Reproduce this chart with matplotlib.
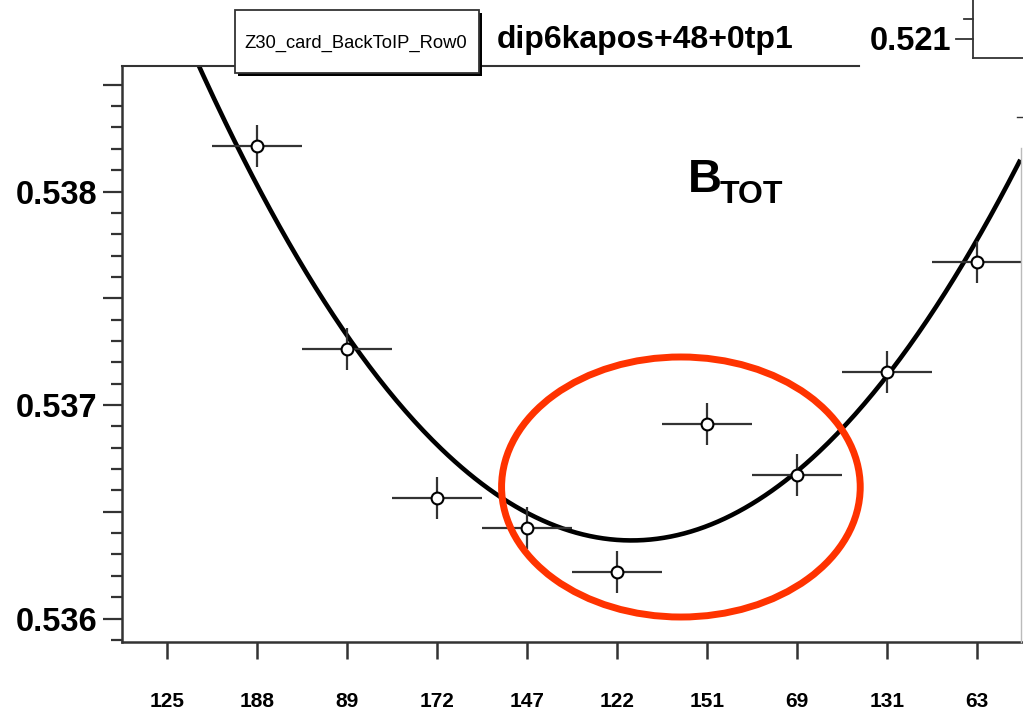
# -*- coding: utf-8 -*-
"""Odtworzenie wykresu B_TOT (styl ROOT) w matplotlib."""
import numpy as np
import matplotlib
matplotlib.use("Agg")
import matplotlib.pyplot as plt
from matplotlib.ticker import MultipleLocator, FuncFormatter
from matplotlib.patches import Ellipse, Rectangle
from matplotlib.lines import Line2D

# --- DANE ---
bin_labels = ["125", "188", "89", "172", "147", "122", "151", "69", "131", "63"]
# punkty pomiarowe (bin 125 poza zakresem osi - brak punktu)
point_labels = ["188", "89", "172", "147", "122", "151", "69", "131", "63"]
point_values = [0.538213, 0.537262, 0.536564, 0.536424, 0.536218,
                0.536911, 0.536672, 0.537155, 0.537670]
point_err = [0.0001, 0.0001, 0.0001, 0.0001, 0.0001,
             0.0001, 0.0001, 0.0001, 0.0001]
# krzywa dopasowania (x w jednostkach binow)
curve_x = [0.855, 1.765, 2.597, 3.407, 4.240, 5.072, 5.705,
           6.182, 7.503, 7.958, 8.502, 9.401, 9.945]
curve_y = [0.538588, 0.537834, 0.537262, 0.536836, 0.536555, 0.536424, 0.536372,
           0.536391, 0.536672, 0.536869, 0.537155, 0.537679, 0.538133]

title_box = "Z30_card_BackToIP_Row0"
title_text = "dip6kapos+48+0tp1"
other_label = "0.521"

DARK = "#333333"
RED = "#ff3300"
plt.rcParams['font.family'] = ['Liberation Sans', 'DejaVu Sans']

fig = plt.figure(figsize=(10.23, 7.13), dpi=100)
W, H = 1023, 713
ax = fig.add_axes([122 / W, 1 - 642 / H, 900 / W, 576 / H])

x_pos = {lab: i + 0.5 for i, lab in enumerate(bin_labels)}
px = [x_pos[l] for l in point_labels]

# krzywa
coef = np.polyfit(curve_x, curve_y, 3)
xs = np.linspace(0.0, 9.97, 400)
ax.plot(xs, np.polyval(coef, xs), color="black", lw=3.3, zorder=3)

# punkty z bledami
ax.errorbar(px, point_values, xerr=0.5, yerr=point_err, fmt="o", ms=8.5,
            mfc="white", mec="black", mew=1.5, ecolor=DARK, elinewidth=1.6,
            capsize=0, zorder=4)

ax.set_xlim(0, 10)
ax.set_ylim(0.53589, 0.538588)

ax.set_xticks([x_pos[l] for l in bin_labels])
ax.set_xticklabels(bin_labels, fontsize=15, fontweight="bold")
ax.tick_params(axis="x", direction="out", length=12, width=1.8, color=DARK, pad=24)

ax.yaxis.set_major_locator(MultipleLocator(0.0005))
ax.yaxis.set_minor_locator(MultipleLocator(0.0001))
ax.yaxis.set_major_formatter(FuncFormatter(
    lambda v, p: f"{v:.3f}" if abs(v * 1000 - round(v * 1000)) < 1e-6 else ""))
ax.tick_params(axis="y", which="major", direction="out", length=14, width=1.6,
               color=DARK, pad=4, labelsize=23.5)
ax.tick_params(axis="y", which="minor", direction="out", length=8, width=1.6, color=DARK)
for t in ax.get_yticklabels():
    t.set_fontweight("bold")

for s in ["top", "right"]:
    ax.spines[s].set_visible(False)
for s in ["left", "bottom"]:
    ax.spines[s].set_linewidth(1.8)
    ax.spines[s].set_color(DARK)

# ramka gorna i prawa (czesciowo)
fig.add_artist(Line2D([122 / W, 859 / W], [1 - 66 / H, 1 - 66 / H], color=DARK, lw=1.5))
fig.add_artist(Line2D([1021 / W, 1021 / W], [1 - 148 / H, 1 - 642 / H], color="#bbbbbb", lw=1))
fig.add_artist(Line2D([1017 / W, 1023 / W], [1 - 117 / H, 1 - 117 / H], color=DARK, lw=1))

# elipsa
ax.add_patch(Ellipse((6.21, 0.536616), 3.985, 0.001218, fill=False,
                     edgecolor=RED, lw=5, zorder=5, clip_on=False))

# B_TOT
ax.text(688 / W, 1 - 192 / H, "B", transform=fig.transFigure, fontsize=34,
        fontweight="bold", ha="left", va="baseline")
ax.text(720 / W, 1 - 203 / H, "TOT", transform=fig.transFigure, fontsize=23,
        fontweight="bold", ha="left", va="baseline")

# pudelko tytulu z cieniem
fig.add_artist(Rectangle((238 / W, 1 - 76 / H), 244 / W, 63 / H, transform=fig.transFigure,
                         facecolor="black", edgecolor="none", zorder=5))
fig.add_artist(Rectangle((235 / W, 1 - 73 / H), 244 / W, 63 / H, transform=fig.transFigure,
                         facecolor="white", edgecolor=DARK, lw=1.3, zorder=6))
fig.text(356 / W, 1 - 43 / H, title_box, fontsize=13.2, ha="center", va="center", zorder=7)
fig.text(497 / W, 1 - 48 / H, title_text, fontsize=23, fontweight="bold",
         ha="left", va="baseline")

# fragment sasiedniego panelu
fig.add_artist(Line2D([973 / W, 973 / W], [1.0, 1 - 58 / H], color=DARK, lw=1.3))
fig.add_artist(Line2D([973 / W, 1.0], [1 - 58 / H, 1 - 58 / H], color=DARK, lw=1.3))
fig.add_artist(Line2D([956 / W, 973 / W], [1 - 39 / H, 1 - 39 / H], color=DARK, lw=1.3))
fig.add_artist(Line2D([964 / W, 973 / W], [1 - 19 / H, 1 - 19 / H], color=DARK, lw=1.3))
fig.text(951 / W, 1 - 41 / H, other_label, fontsize=23.5, fontweight="bold",
         ha="right", va="center")

fig.savefig("out.png", dpi=100)
